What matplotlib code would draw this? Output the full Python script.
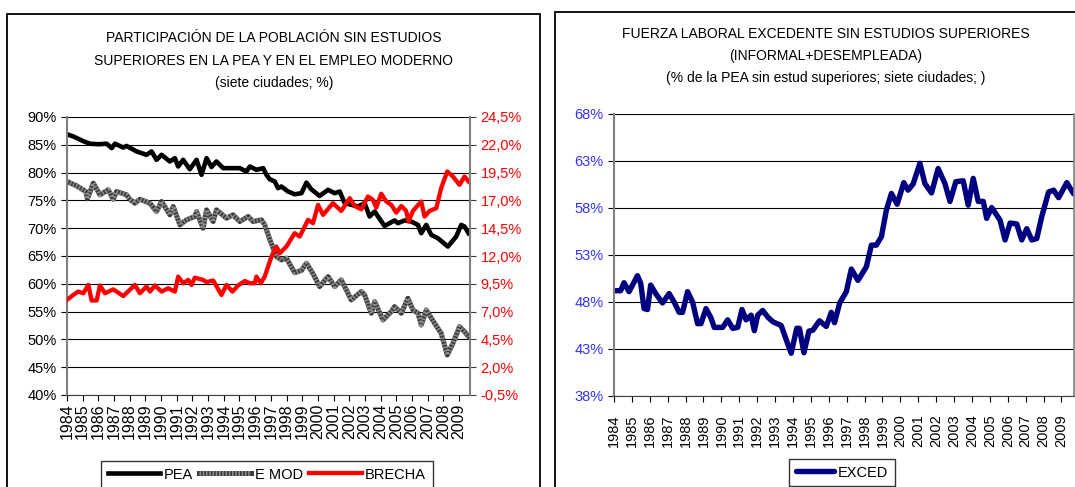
import matplotlib

matplotlib.use("Agg")
import matplotlib.pyplot as plt
import numpy as np
from matplotlib.patches import Rectangle
from matplotlib.ticker import FuncFormatter

plt.rcParams["font.family"] = ["Liberation Sans", "DejaVu Sans"]

YEARS = list(range(1984, 2010))

# Left panel: share of population without higher education (%)
pea_x = [1984.0, 1984.4, 1985.0, 1985.46, 1986.0, 1986.53, 1986.85, 1987.06, 1987.59, 1987.8,
         1988.44, 1989.07, 1989.39, 1989.71, 1990.03, 1990.56, 1990.88, 1991.09, 1991.41, 1991.83,
         1992.26, 1992.58, 1992.9, 1993.21, 1993.53, 1993.96, 1994.38, 1995.02, 1995.44, 1995.66,
         1996.08, 1996.51, 1996.72, 1996.93, 1997.25, 1997.46, 1997.67, 1998.1, 1998.52, 1998.95,
         1999.27, 1999.58, 2000.11, 2000.65, 2001.07, 2001.39, 2001.71, 2002.13, 2002.56, 2002.98,
         2003.3, 2003.62, 2004.25, 2004.89, 2005.1, 2005.53, 2005.95, 2006.38, 2006.59, 2006.91,
         2007.23, 2007.65, 2008.29, 2008.82, 2009.14, 2009.35, 2009.61]
pea_y = [86.9, 86.5, 85.7, 85.2, 85.1, 85.2, 84.4, 85.2, 84.5, 84.8,
         83.8, 83.2, 83.8, 82.3, 83.2, 82.0, 82.6, 81.1, 82.3, 80.6,
         82.3, 79.6, 82.6, 81.0, 82.0, 80.8, 80.8, 80.8, 80.2, 81.1,
         80.5, 80.8, 79.6, 78.8, 78.4, 77.2, 77.5, 76.6, 76.1, 76.3,
         78.2, 77.0, 75.8, 76.9, 76.3, 76.6, 74.5, 74.2, 73.9, 74.5,
         72.1, 73.0, 70.4, 71.4, 70.9, 71.4, 71.2, 70.6, 69.1, 70.6,
         68.8, 68.2, 66.7, 68.5, 70.6, 70.3, 69.1]

emod_x = [1984.0, 1984.62, 1985.2, 1985.3, 1985.68, 1986.1, 1986.63, 1986.95, 1987.16, 1987.8,
          1988.01, 1988.33, 1988.65, 1989.29, 1989.71, 1990.03, 1990.56, 1990.77, 1991.2, 1991.62,
          1992.15, 1992.26, 1992.68, 1992.9, 1993.32, 1993.53, 1994.17, 1994.59, 1995.02, 1995.55,
          1995.87, 1996.4, 1996.61, 1996.93, 1997.35, 1997.67, 1997.99, 1998.52, 1998.95, 1999.27,
          1999.69, 2000.11, 2000.65, 2001.07, 2001.49, 2001.81, 2002.13, 2002.77, 2002.98, 2003.41,
          2003.62, 2004.15, 2004.68, 2004.89, 2005.32, 2005.74, 2006.06, 2006.38, 2006.59, 2006.91,
          2007.44, 2007.86, 2008.25, 2008.61, 2009.03, 2009.35, 2009.61]
emod_y = [78.4, 77.6, 76.6, 75.3, 78.1, 76.0, 76.9, 75.2, 76.6, 76.0,
          75.2, 74.5, 75.2, 74.5, 73.0, 74.8, 72.4, 73.9, 70.6, 71.5,
          72.1, 73.0, 70.0, 73.3, 71.2, 73.3, 71.8, 72.4, 71.2, 72.1,
          71.2, 71.5, 70.6, 68.0, 64.9, 64.3, 64.6, 62.0, 62.4, 63.7,
          61.8, 59.5, 61.3, 59.5, 60.7, 58.9, 57.1, 58.6, 58.0, 54.7,
          56.8, 53.5, 55.0, 55.9, 54.7, 57.4, 55.3, 54.7, 52.6, 55.3,
          52.9, 51.1, 47.2, 49.3, 52.3, 51.4, 50.5]

# BRECHA on the right axis (%)
brecha_x = [1984.0, 1984.4, 1984.72, 1985.04, 1985.36, 1985.57, 1985.89, 1986.1, 1986.42, 1986.95,
            1987.27, 1987.59, 1988.33, 1988.65, 1989.07, 1989.29, 1989.61, 1990.03, 1990.45, 1990.88,
            1991.09, 1991.41, 1991.73, 1991.94, 1992.15, 1992.68, 1992.9, 1993.32, 1993.85, 1994.17,
            1994.55, 1994.91, 1995.34, 1995.66, 1995.97, 1996.08, 1996.36, 1996.61, 1997.04, 1997.35,
            1997.57, 1997.99, 1998.52, 1998.84, 1999.37, 1999.69, 2000.01, 2000.33, 2000.96, 2001.49,
            2002.03, 2002.34, 2002.77, 2003.19, 2003.51, 2003.72, 2004.04, 2004.36, 2004.68, 2005.0,
            2005.32, 2005.63, 2005.78, 2006.06, 2006.59, 2006.8, 2007.12, 2007.55, 2007.86, 2008.25,
            2008.61, 2009.03, 2009.35, 2009.61]
brecha_y = [8.05, 8.5, 8.8, 8.65, 9.4, 8.0, 8.0, 9.35, 8.65, 9.0,
            8.7, 8.4, 9.4, 8.65, 9.25, 8.8, 9.35, 8.8, 9.1, 8.8,
            10.15, 9.55, 9.85, 9.4, 10.05, 9.85, 9.65, 9.8, 8.5, 9.4,
            8.8, 9.35, 9.75, 9.55, 9.55, 10.15, 9.55, 10.15, 11.95, 12.85,
            12.25, 12.85, 14.05, 13.75, 15.25, 14.95, 16.6, 15.7, 16.75, 16.05,
            17.2, 16.5, 16.2, 17.35, 17.05, 16.35, 17.6, 16.9, 16.6, 15.9,
            16.5, 16.05, 15.1, 16.05, 16.9, 15.55, 16.05, 16.3, 18.1, 19.6,
            19.15, 18.4, 19.15, 18.7]

# Right panel: surplus labour force (%)
exced_x = [1984.05, 1984.37, 1984.56, 1984.84, 1985.31, 1985.49, 1985.68, 1985.87, 1986.05, 1986.33,
           1986.71, 1987.08, 1987.36, 1987.64, 1987.83, 1988.11, 1988.39, 1988.67, 1988.86, 1989.14,
           1989.42, 1989.6, 1990.07, 1990.35, 1990.63, 1990.91, 1991.15, 1991.38, 1991.66, 1991.84,
           1992.03, 1992.31, 1992.59, 1992.87, 1993.34, 1993.62, 1993.9, 1994.21, 1994.36, 1994.61,
           1994.89, 1995.11, 1995.48, 1995.86, 1996.14, 1996.32, 1996.61, 1996.98, 1997.26, 1997.63,
           1998.1, 1998.38, 1998.66, 1998.94, 1999.22, 1999.5, 1999.82, 2000.19, 2000.43, 2000.71,
           2001.09, 2001.37, 2001.74, 2002.11, 2002.49, 2002.77, 2003.1, 2003.51, 2003.79, 2004.07,
           2004.35, 2004.63, 2004.82, 2005.1, 2005.57, 2005.85, 2006.13, 2006.5, 2006.78, 2007.06,
           2007.34, 2007.62, 2007.9, 2008.28, 2008.56, 2008.84, 2009.3, 2009.68]
exced_y = [49.2, 49.2, 50.05, 49.1, 50.8, 50.0, 47.3, 47.2, 49.8, 48.9,
           47.9, 48.9, 48.0, 46.9, 46.9, 49.1, 48.0, 45.7, 45.7, 47.3,
           46.3, 45.3, 45.3, 46.1, 45.2, 45.3, 47.2, 46.1, 46.6, 44.95,
           46.6, 47.1, 46.4, 45.9, 45.5, 44.0, 42.55, 45.2, 45.2, 42.6,
           44.9, 45.0, 46.0, 45.4, 46.9, 45.8, 47.9, 49.1, 51.5, 50.3,
           51.75, 54.05, 54.05, 54.95, 57.8, 59.55, 58.4, 60.7, 59.9, 60.55,
           62.75, 60.6, 59.6, 62.2, 60.6, 58.7, 60.8, 60.9, 58.3, 61.15,
           58.7, 58.7, 56.9, 58.05, 56.7, 54.6, 56.4, 56.3, 54.6, 55.8,
           54.6, 54.75, 57.1, 59.7, 59.9, 59.1, 60.7, 59.5]

W, H = 1075, 487
fig = plt.figure(figsize=(W / 100, H / 100), dpi=100)


def fx(px):
    return px / W


def fy(py):
    return 1 - py / H


# outer chart frames
fig.patches.append(Rectangle((fx(7), -0.02), fx(533), fy(14) + 0.02, transform=fig.transFigure,
                             fill=False, ec="black", lw=1.3))
fig.patches.append(Rectangle((fx(555), -0.02), fx(540), fy(12) + 0.02, transform=fig.transFigure,
                             fill=False, ec="black", lw=1.3))


def style_years(ax, size, pad):
    ax.set_xlim(1984, 2009.7)
    ax.set_xticks(YEARS)
    ax.set_xticklabels([str(y) for y in YEARS], rotation=90, fontsize=size)
    ax.tick_params(axis="x", direction="out", length=4, pad=pad)
    ax.tick_params(axis="y", direction="out", length=4, labelsize=10.5)
    ax.grid(axis="y", color="black", lw=0.8)
    ax.set_axisbelow(True)
    ax.spines["top"].set_visible(False)
    ax.spines["left"].set_color("#808080")
    ax.spines["left"].set_linewidth(1.5)
    ax.spines["bottom"].set_color("#404040")


# ---- left panel
ax1 = fig.add_axes([fx(67), fy(395), fx(403), (395 - 117) / H])
style_years(ax1, 11.5, 2)
ax1.set_ylim(40, 90)
ax1.set_yticks(np.arange(40, 91, 5))
ax1.yaxis.set_major_formatter(FuncFormatter(lambda v, _: f"{v:.0f}%"))
ax1.spines["right"].set_visible(False)

ax2 = ax1.twinx()
ax2.set_ylim(-0.5, 24.5)
ax2.set_yticks(np.arange(-0.5, 24.6, 2.5))
ax2.yaxis.set_major_formatter(FuncFormatter(lambda v, _: f"{v:.1f}%".replace(".", ",")))
ax2.tick_params(axis="y", direction="out", length=4, labelsize=10.5, colors="#ff0000")
ax2.tick_params(axis="y", color="#404040")
for s in ["top", "left", "bottom"]:
    ax2.spines[s].set_visible(False)
ax2.spines["right"].set_color("#808080")
ax2.spines["right"].set_linewidth(1.5)

l_pea, = ax1.plot(pea_x, pea_y, color="black", lw=3.3, solid_joinstyle="round")
l_emod, = ax1.plot(emod_x, emod_y, color="#3c3c3c", lw=3.6)
l_emod2, = ax1.plot(emod_x, emod_y, color="#8c8c8c", lw=3.6, dashes=(0.3, 0.35))
l_brecha, = ax2.plot(brecha_x, brecha_y, color="#ff0000", lw=3.1, solid_joinstyle="round")

fig.text(fx(274), fy(38), "PARTICIPACIÓN DE LA POBLACIÓN SIN ESTUDIOS", ha="center", va="center", fontsize=10)
fig.text(fx(274), fy(61), "SUPERIORES EN LA PEA Y EN EL EMPLEO MODERNO", ha="center", va="center", fontsize=10)
fig.text(fx(274), fy(83), "(siete ciudades; %)", ha="center", va="center", fontsize=10)

leg1 = fig.legend([l_pea, (l_emod, l_emod2), l_brecha], ["PEA", "E MOD", "BRECHA"],
                  loc="upper center", bbox_to_anchor=(fx(267), fy(461)), ncol=3, fontsize=10.5,
                  frameon=True, fancybox=False, edgecolor="black", handlelength=3.6,
                  handletextpad=0.25, columnspacing=0.4, borderpad=0.45, borderaxespad=0)
leg1.get_frame().set_linewidth(1.0)

# ---- right panel
ax3 = fig.add_axes([fx(614), fy(396), fx(460), (396 - 114) / H])
style_years(ax3, 10.5, 9)
ax3.set_ylim(38, 68)
ax3.set_yticks(np.arange(38, 69, 5))
ax3.yaxis.set_major_formatter(FuncFormatter(lambda v, _: f"{v:.0f}%"))
ax3.tick_params(axis="y", labelcolor="#3333ff")
ax3.spines["right"].set_color("#808080")
ax3.spines["right"].set_linewidth(1.2)
l_exced, = ax3.plot(exced_x, exced_y, color="#000080", lw=3.9, solid_joinstyle="round",
                    solid_capstyle="round")

fig.text(fx(826), fy(34), "FUERZA LABORAL EXCEDENTE SIN ESTUDIOS SUPERIORES", ha="center", va="center", fontsize=10)
fig.text(fx(826), fy(56), "(INFORMAL+DESEMPLEADA)", ha="center", va="center", fontsize=10)
fig.text(fx(826), fy(78), "(% de la PEA sin estud superiores; siete ciudades; )", ha="center", va="center",
         fontsize=10)

leg2 = fig.legend([l_exced], ["EXCED"], loc="upper center", bbox_to_anchor=(fx(842), fy(459)),
                  fontsize=10.5, frameon=True, fancybox=False, edgecolor="black", handlelength=2.6,
                  handletextpad=0.25, borderpad=0.45, borderaxespad=0)
leg2.get_frame().set_linewidth(1.0)

fig.savefig("out.png", dpi=100)
